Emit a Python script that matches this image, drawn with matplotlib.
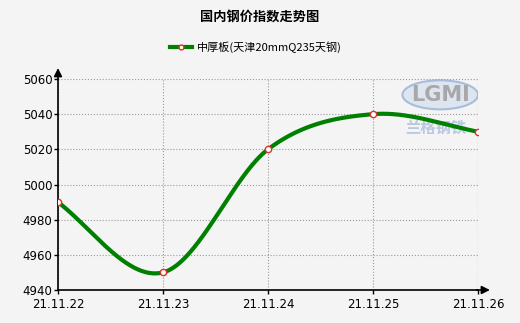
import numpy as np
import matplotlib
matplotlib.use("Agg")
import matplotlib.pyplot as plt
from matplotlib.patches import Ellipse

plt.rcParams['font.family'] = ['Noto Sans CJK SC', 'DejaVu Sans']

dates = ["21.11.22", "21.11.23", "21.11.24", "21.11.25", "21.11.26"]
values = [4990, 4950, 5020, 5040, 5030]
yticks = [4940, 4960, 4980, 5000, 5020, 5040, 5060]
title = "国内钢价指数走势图"
series_name = "中厚板(天津20mmQ235天钢)"

def smooth(x, y, n=400, k=1.0):
    x = np.asarray(x, float); y = np.asarray(y, float)
    h = np.diff(x); dl = np.diff(y) / h
    m = np.zeros_like(y)
    for i in range(1, len(x) - 1):
        m[i] = k * (y[i+1] - y[i-1]) / (x[i+1] - x[i-1])
    m[0] = 1.15 * dl[0]; m[-1] = 1.15 * dl[-1]
    xs = np.linspace(x[0], x[-1], n); ys = np.empty_like(xs)
    for j, xv in enumerate(xs):
        i = min(np.searchsorted(x, xv, side='right') - 1, len(x) - 2)
        t = (xv - x[i]) / h[i]
        h00 = 2*t**3 - 3*t**2 + 1; h10 = t**3 - 2*t**2 + t
        h01 = -2*t**3 + 3*t**2; h11 = t**3 - t**2
        ys[j] = h00*y[i] + h10*h[i]*m[i] + h01*y[i+1] + h11*h[i]*m[i+1]
    return xs, ys

fig = plt.figure(figsize=(5.2, 3.23), dpi=100, facecolor='#f4f4f4')
ax = fig.add_axes([58/520, 1-290/323, 420/520, 211/323])
ax.set_facecolor('#f4f4f4')

x = np.arange(len(dates))
xs, ys = smooth(x, values)

# watermark
ax.add_patch(Ellipse((3.64, 5051), 0.72, 16.5, facecolor='#dde5f1', edgecolor='#a9bddb', lw=1.5, zorder=1))
ax.text(3.64, 5051, "LGMI", ha='center', va='center', fontsize=15, fontweight='bold', color='#a8a8a8', zorder=1, family='DejaVu Sans')
ax.text(3.6, 5032.5, "兰格钢铁", ha='center', va='center', fontsize=11, fontweight='bold', color='#b8c8e0', zorder=1, fontstyle='italic')

ax.plot(xs, ys, color='#008000', lw=3, zorder=3, solid_capstyle='round')
ax.plot(x, values, ls='none', marker='o', ms=4.5, mfc='white', mec='#e03030', mew=1, zorder=4)

ax.set_xlim(0, 4)
ax.set_ylim(4940, 5060)
ax.set_xticks(x)
ax.set_xticklabels(dates, fontsize=8.5, family='DejaVu Sans')
ax.set_yticks(yticks)
ax.set_yticklabels([str(v) for v in yticks], fontsize=8.5, family='DejaVu Sans')
ax.tick_params(axis='y', length=3, width=1, color='black', pad=1)
ax.tick_params(axis='x', length=3, width=1, color='black', pad=3)
ax.grid(True, ls=':', color='#999999', lw=0.8)
for s in ['top', 'right']:
    ax.spines[s].set_visible(False)
ax.spines['left'].set_linewidth(1.2)
ax.spines['bottom'].set_linewidth(1.2)
ax.axvline(4, ls=':', color='#999999', lw=0.8)

# arrows
ax.annotate('', xy=(0, 1.065), xycoords='axes fraction', xytext=(0, 0.99),
            arrowprops=dict(arrowstyle='-|>', color='black', lw=1.2, mutation_scale=12))
ax.annotate('', xy=(1.035, 0), xycoords='axes fraction', xytext=(0.99, 0),
            arrowprops=dict(arrowstyle='-|>', color='black', lw=1.2, mutation_scale=12))

fig.text(0.5, 1-17/323, title, ha='center', va='center', fontsize=9.5, fontweight='bold')
# legend
lx0, lx1, ly = 170/520, 192/520, 1-47/323
fig.add_artist(plt.Line2D([lx0, lx1], [ly, ly], color='#008000', lw=3, transform=fig.transFigure))
fig.add_artist(plt.Line2D([(lx0+lx1)/2], [ly], marker='o', ms=3.5, mfc='white', mec='#e03030', mew=1, transform=fig.transFigure))
fig.text(197/520, ly, series_name, ha='left', va='center', fontsize=8)

fig.savefig('out.png', dpi=100, facecolor=fig.get_facecolor())
